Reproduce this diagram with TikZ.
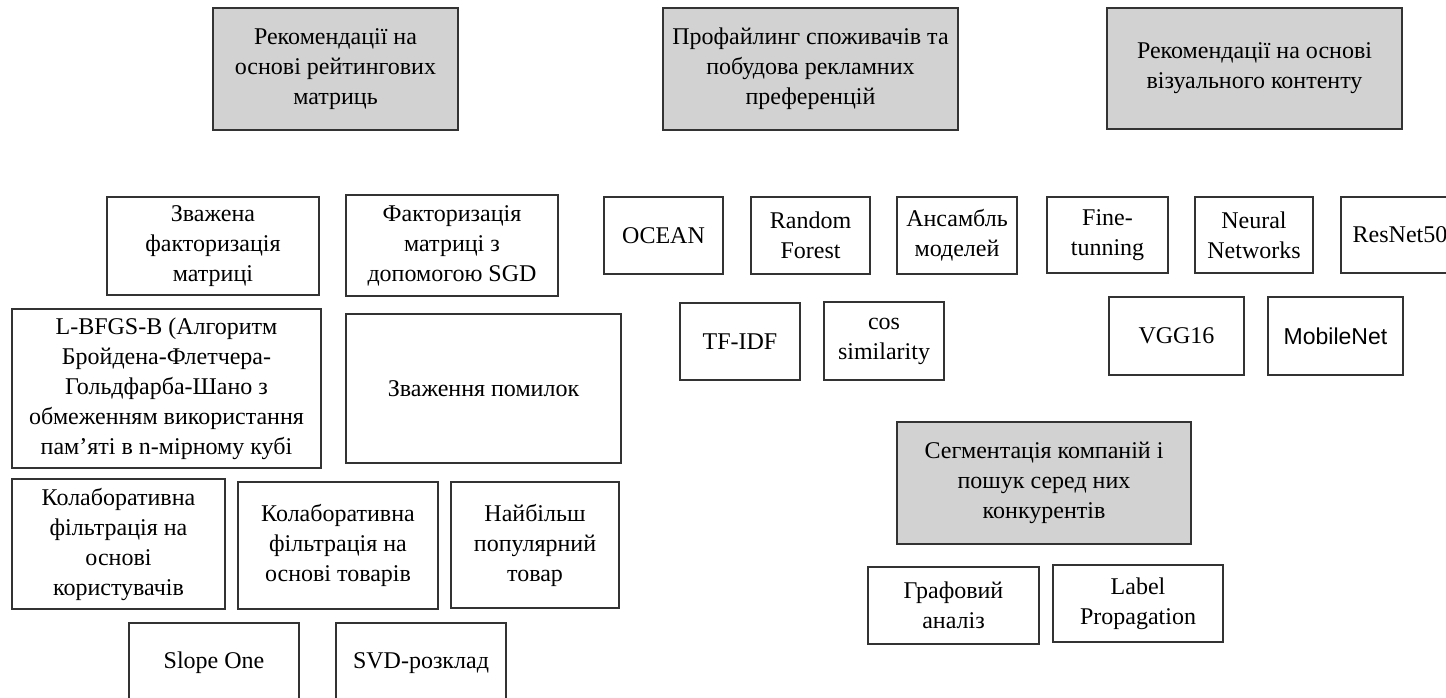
\documentclass[tikz,border=0pt]{standalone}
\usepackage{fontspec}
\setmainfont{Liberation Serif}
\newfontfamily\sansfont{Liberation Sans}
\usepackage{tikz}
\usetikzlibrary{positioning}
\tikzset{
  box/.style={draw=black!80, line width=0.9pt, align=center, inner sep=0pt,
    font=\fontsize{12}{15}\selectfont},
  group/.style={box, fill=gray!35},
  item/.style={box, fill=white}
}

\begin{document}
\begin{tikzpicture}[x=0.5pt, y=-0.5pt]

    \useasboundingbox (0,0) rectangle (1446,697);
    \clip (0,0) rectangle (1446,697);

    % groups
    \node [group, minimum width=122.5pt, minimum height=61pt] (rating) at (335.5,69)
        {Рекомендації на\\основі рейтингових\\матриць};
    \node [group, minimum width=147.5pt, minimum height=61pt] (profile) at (810.5,69)
        {Профайлинг споживачів та\\побудова рекламних\\преференцій};
    \node [group, minimum width=147.5pt, minimum height=60.5pt] (visual) at (1254.5,68.5)
        {Рекомендації на основі\\візуального контенту};
    \node [group, minimum width=147pt, minimum height=61pt] (segment) at (1044,483)
        {Сегментація компаній і\\пошук серед них\\конкурентів};

    % rating matrices
    \node [item, minimum width=106pt, minimum height=49pt] (wmf) at (213,246)
        {Зважена\\факторизація\\матриці};
    \node [item, minimum width=106pt, minimum height=50.5pt] (sgd) at (452,245.5)
        {Факторизація\\матриці з\\допомогою SGD};
    \node [item, minimum width=154.5pt, minimum height=79.5pt] (lbfgs) at (166.5,388.5)
        {L-BFGS-B (Алгоритм\\Бройдена-Флетчера-\\Гольдфарба-Шано з\\обмеженням використання\\пам’яті в n-мірному кубі};
    \node [item, minimum width=137.5pt, minimum height=74.5pt] (weights) at (483.5,388.5)
        {Зваження помилок};
    \node [item, minimum width=106.5pt, minimum height=65pt] (cfuser) at (118.5,544)
        {Колаборативна\\фільтрація на\\основі\\користувачів};
    \node [item, minimum width=100pt, minimum height=63.5pt] (cfitem) at (338,545.5)
        {Колаборативна\\фільтрація на\\основі товарів};
    \node [item, minimum width=84pt, minimum height=63pt] (popular) at (535,545)
        {Найбільш\\популярний\\товар};
    \node [item, minimum width=85pt, minimum height=40pt] (slope) at (214,663)
        {Slope One};
    \node [item, minimum width=85pt, minimum height=40pt] (svd) at (421,663)
        {SVD-розклад};

    % profiling
    \node [item, minimum width=59.5pt, minimum height=38.5pt] (ocean) at (663.5,235.5) {OCEAN};
    \node [item, minimum width=59.5pt, minimum height=38.5pt] (forest) at (810.5,235.5) {Random\\Forest};
    \node [item, minimum width=60pt, minimum height=38.5pt] (ensemble) at (957,235.5) {Ансамбль\\моделей};
    \node [item, minimum width=60pt, minimum height=38.5pt] (tfidf) at (740,341.5) {TF-IDF};
    \node [item, minimum width=60pt, minimum height=39pt] (cossim) at (884,341) {cos\\similarity};

    % visual content
    \node [item, minimum width=60.5pt, minimum height=38pt] (finetune) at (1107.5,235) {Fine-\\tunning};
    \node [item, minimum width=59pt, minimum height=38pt] (neural) at (1254,235) {Neural\\Networks};
    \node [item, minimum width=59pt, minimum height=38pt] (resnet) at (1400,235) {ResNet50};
    \node [item, minimum width=67.5pt, minimum height=39pt] (vgg) at (1176.5,336) {VGG16};
    \node [item, minimum width=67.5pt, minimum height=39pt, font=\sansfont\fontsize{11.5}{14}\selectfont] (mobile) at (1335.5,336) {MobileNet};

    % segmentation
    \node [item, minimum width=85.5pt, minimum height=38.5pt] (graph) at (953.5,605.5) {Графовий\\аналіз};
    \node [item, minimum width=85pt, minimum height=38.5pt] (labelprop) at (1138,603.5) {Label\\Propagation};

\end{tikzpicture}
\end{document}
